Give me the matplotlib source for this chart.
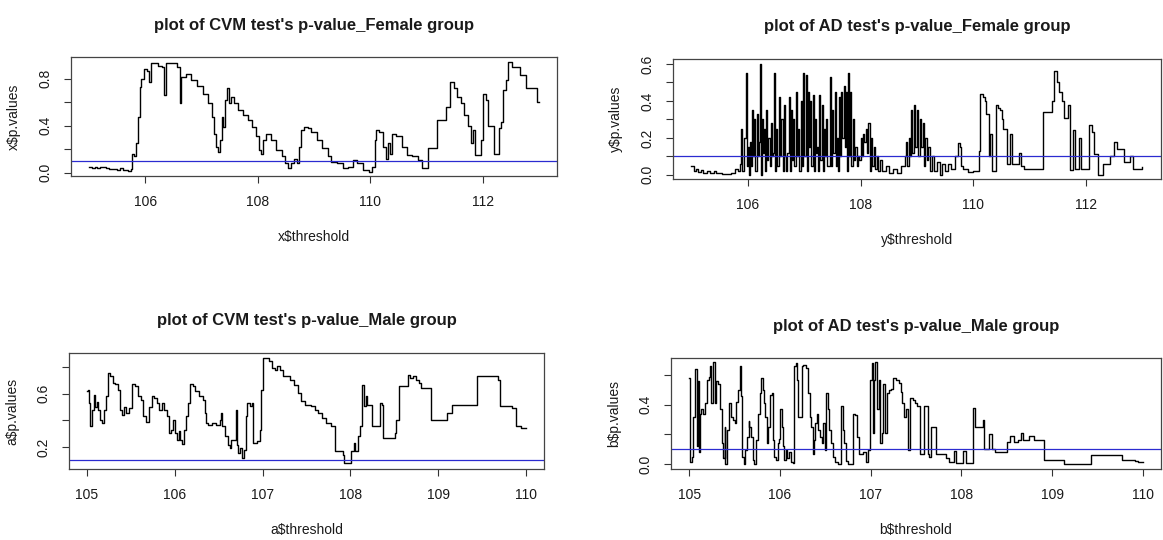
import matplotlib
matplotlib.use('Agg')
import matplotlib.pyplot as plt

plt.rcParams['font.family'] = ['Liberation Sans', 'DejaVu Sans']

# threshold / p-value pairs
cvm_female = [
    (105.0, 0.05), (105.05, 0.04), (105.1, 0.05), (105.15, 0.04), (105.2, 0.05), (105.3, 0.04),
    (105.35, 0.03), (105.45, 0.035), (105.5, 0.025), (105.55, 0.04), (105.6, 0.025), (105.65, 0.02),
    (105.7, 0.015), (105.74, 0.03), (105.77, 0.16), (105.8, 0.14), (105.84, 0.25), (105.87, 0.47),
    (105.9, 0.73), (105.93, 0.8), (105.97, 0.88), (106.03, 0.86), (106.07, 0.77), (106.1, 0.93),
    (106.23, 0.91), (106.3, 0.9), (106.34, 0.66), (106.37, 0.93), (106.49, 0.93), (106.56, 0.9),
    (106.61, 0.59), (106.64, 0.81), (106.72, 0.84), (106.82, 0.79), (106.92, 0.74), (107.02, 0.67),
    (107.11, 0.59), (107.18, 0.47), (107.23, 0.33), (107.26, 0.22), (107.29, 0.18), (107.32, 0.28),
    (107.36, 0.47), (107.39, 0.39), (107.42, 0.62), (107.46, 0.72), (107.49, 0.59), (107.52, 0.64),
    (107.57, 0.59), (107.64, 0.53), (107.74, 0.49), (107.82, 0.45), (107.9, 0.39), (107.97, 0.31),
    (108.02, 0.19), (108.05, 0.16), (108.1, 0.28), (108.14, 0.33), (108.23, 0.28), (108.33, 0.19),
    (108.43, 0.14), (108.49, 0.08), (108.54, 0.04), (108.59, 0.08), (108.64, 0.12), (108.7, 0.08),
    (108.73, 0.22), (108.77, 0.36), (108.82, 0.39), (108.89, 0.38), (108.95, 0.35), (109.05, 0.28),
    (109.15, 0.21), (109.25, 0.14), (109.31, 0.09), (109.41, 0.08), (109.51, 0.04), (109.61, 0.05),
    (109.7, 0.11), (109.77, 0.08), (109.87, 0.02), (109.97, 0.01), (110.03, 0.05), (110.09, 0.28),
    (110.11, 0.36), (110.16, 0.35), (110.23, 0.22), (110.28, 0.12), (110.31, 0.25), (110.35, 0.16),
    (110.39, 0.33), (110.46, 0.31), (110.56, 0.22), (110.66, 0.15), (110.75, 0.14), (110.85, 0.11),
    (110.92, 0.04), (111.02, 0.21), (111.18, 0.45), (111.34, 0.56), (111.41, 0.77), (111.48, 0.72),
    (111.54, 0.64), (111.61, 0.59), (111.67, 0.49), (111.74, 0.4), (111.79, 0.25), (111.82, 0.36),
    (111.86, 0.15), (111.97, 0.28), (112.0, 0.67), (112.05, 0.62), (112.1, 0.4), (112.2, 0.16),
    (112.28, 0.38), (112.33, 0.43), (112.36, 0.7), (112.41, 0.79), (112.45, 0.94), (112.52, 0.9),
    (112.66, 0.83), (112.77, 0.72), (112.97, 0.6), (113.0, 0.6),
]

ad_female = [
    (105.0, 0.045), (105.05, 0.02), (105.08, 0.03), (105.12, 0.015), (105.18, 0.025), (105.22, 0.01),
    (105.28, 0.02), (105.33, 0.012), (105.4, 0.022), (105.45, 0.01), (105.55, 0.005), (105.7, 0.008),
    (105.78, 0.03), (105.83, 0.02), (105.86, 0.06), (105.89, 0.25), (105.91, 0.02), (105.94, 0.2),
    (105.97, 0.55), (105.985, 0.05), (106.0, 0.15), (106.02, 0.0), (106.04, 0.18), (106.06, 0.05),
    (106.08, 0.35), (106.1, 0.1), (106.12, 0.3), (106.14, 0.02), (106.16, 0.33), (106.18, 0.1),
    (106.2, 0.18), (106.22, 0.6), (106.235, 0.0), (106.25, 0.3), (106.27, 0.12), (106.29, 0.25),
    (106.31, 0.02), (106.33, 0.35), (106.35, 0.08), (106.37, 0.2), (106.39, 0.05), (106.41, 0.28),
    (106.43, 0.1), (106.45, 0.12), (106.47, 0.55), (106.49, 0.02), (106.51, 0.25), (106.53, 0.05),
    (106.56, 0.42), (106.58, 0.1), (106.6, 0.3), (106.62, 0.02), (106.64, 0.38), (106.66, 0.1),
    (106.68, 0.02), (106.7, 0.12), (106.73, 0.42), (106.75, 0.02), (106.77, 0.35), (106.79, 0.08),
    (106.81, 0.3), (106.83, 0.05), (106.85, 0.45), (106.87, 0.1), (106.89, 0.25), (106.91, 0.02),
    (106.94, 0.4), (106.96, 0.05), (106.98, 0.55), (107.0, 0.1), (107.03, 0.54), (107.05, 0.02),
    (107.07, 0.45), (107.09, 0.15), (107.11, 0.4), (107.13, 0.05), (107.15, 0.43), (107.17, 0.02),
    (107.19, 0.3), (107.21, 0.12), (107.23, 0.15), (107.25, 0.02), (107.27, 0.43), (107.29, 0.08),
    (107.31, 0.38), (107.33, 0.02), (107.35, 0.25), (107.37, 0.1), (107.39, 0.3), (107.41, 0.05),
    (107.46, 0.53), (107.48, 0.05), (107.5, 0.35), (107.52, 0.12), (107.54, 0.45), (107.56, 0.05),
    (107.58, 0.2), (107.6, 0.02), (107.62, 0.42), (107.64, 0.1), (107.66, 0.45), (107.68, 0.2),
    (107.7, 0.48), (107.72, 0.15), (107.74, 0.45), (107.76, 0.02), (107.78, 0.55), (107.8, 0.1),
    (107.82, 0.45), (107.84, 0.05), (107.86, 0.3), (107.88, 0.08), (107.9, 0.15), (107.93, 0.05),
    (107.96, 0.1), (107.98, 0.08), (108.0, 0.2), (108.02, 0.1), (108.05, 0.22), (108.07, 0.18),
    (108.1, 0.25), (108.12, 0.12), (108.14, 0.28), (108.16, 0.02), (108.19, 0.2), (108.21, 0.05),
    (108.23, 0.15), (108.26, 0.03), (108.29, 0.1), (108.31, 0.02), (108.35, 0.08), (108.38, 0.02),
    (108.45, 0.05), (108.5, 0.01), (108.58, 0.03), (108.65, 0.01), (108.72, 0.05), (108.78, 0.1),
    (108.8, 0.18), (108.82, 0.05), (108.85, 0.2), (108.87, 0.1), (108.9, 0.35), (108.92, 0.12),
    (108.95, 0.38), (108.97, 0.15), (109.0, 0.35), (109.02, 0.1), (109.05, 0.3), (109.07, 0.15),
    (109.1, 0.28), (109.12, 0.05), (109.15, 0.2), (109.18, 0.08), (109.2, 0.15), (109.23, 0.02),
    (109.26, 0.1), (109.3, 0.02), (109.35, 0.07), (109.4, 0.0), (109.45, 0.06), (109.5, 0.02),
    (109.55, 0.06), (109.6, 0.03), (109.68, 0.1), (109.72, 0.17), (109.76, 0.15), (109.78, 0.05),
    (109.82, 0.03), (109.9, 0.015), (110.0, 0.02), (110.09, 0.13), (110.12, 0.44), (110.17, 0.42),
    (110.21, 0.4), (110.23, 0.33), (110.27, 0.1), (110.3, 0.22), (110.33, 0.02), (110.4, 0.38),
    (110.44, 0.36), (110.47, 0.35), (110.5, 0.3), (110.53, 0.25), (110.59, 0.06), (110.64, 0.22),
    (110.68, 0.06), (110.8, 0.12), (110.84, 0.05), (110.89, 0.03), (111.23, 0.34), (111.39, 0.4),
    (111.43, 0.56), (111.48, 0.5), (111.52, 0.45), (111.57, 0.4), (111.61, 0.31), (111.68, 0.38),
    (111.7, 0.027), (111.76, 0.24), (111.79, 0.03), (111.87, 0.2), (111.9, 0.03), (112.04, 0.27),
    (112.1, 0.23), (112.13, 0.11), (112.21, 0.0), (112.3, 0.06), (112.41, 0.1), (112.48, 0.18),
    (112.54, 0.14), (112.67, 0.07), (112.77, 0.1), (112.82, 0.03), (112.98, 0.04),
]

cvm_male = [
    (105.0, 0.62), (105.021, 0.63), (105.03, 0.53), (105.042, 0.355), (105.059, 0.48), (105.08, 0.59),
    (105.097, 0.5), (105.114, 0.54), (105.135, 0.48), (105.157, 0.4), (105.178, 0.38), (105.199, 0.48),
    (105.22, 0.58), (105.241, 0.755), (105.271, 0.73), (105.296, 0.68), (105.326, 0.67), (105.356, 0.63),
    (105.381, 0.48), (105.402, 0.44), (105.423, 0.5), (105.453, 0.455), (105.487, 0.49), (105.517, 0.67),
    (105.546, 0.655), (105.58, 0.58), (105.614, 0.555), (105.644, 0.43), (105.677, 0.39), (105.707, 0.5),
    (105.741, 0.58), (105.771, 0.57), (105.8, 0.53), (105.826, 0.48), (105.855, 0.53), (105.876, 0.48),
    (105.91, 0.43), (105.94, 0.305), (105.961, 0.33), (105.982, 0.405), (106.003, 0.305), (106.025, 0.255),
    (106.046, 0.32), (106.067, 0.255), (106.088, 0.22), (106.109, 0.33), (106.13, 0.43), (106.152, 0.53),
    (106.173, 0.67), (106.207, 0.655), (106.236, 0.62), (106.279, 0.58), (106.321, 0.555), (106.342, 0.455),
    (106.363, 0.38), (106.384, 0.368), (106.427, 0.38), (106.469, 0.368), (106.511, 0.405), (106.533, 0.455),
    (106.545, 0.355), (106.575, 0.28), (106.605, 0.218), (106.63, 0.193), (106.647, 0.255), (106.681, 0.255),
    (106.693, 0.48), (106.706, 0.218), (106.723, 0.155), (106.744, 0.193), (106.765, 0.118), (106.787, 0.18),
    (106.808, 0.43), (106.829, 0.53), (106.859, 0.505), (106.88, 0.53), (106.892, 0.23), (106.935, 0.243),
    (106.969, 0.33), (106.986, 0.63), (107.007, 0.868), (107.041, 0.868), (107.07, 0.843), (107.104, 0.793),
    (107.146, 0.78), (107.168, 0.805), (107.197, 0.78), (107.231, 0.73), (107.274, 0.73), (107.316, 0.705),
    (107.358, 0.668), (107.4, 0.605), (107.443, 0.543), (107.485, 0.518), (107.549, 0.505), (107.591, 0.48),
    (107.633, 0.455), (107.676, 0.418), (107.718, 0.38), (107.782, 0.355), (107.824, 0.168), (107.917, 0.143),
    (107.93, 0.08), (108.006, 0.168), (108.036, 0.23), (108.057, 0.168), (108.086, 0.28), (108.112, 0.355),
    (108.133, 0.668), (108.154, 0.505), (108.171, 0.58), (108.184, 0.518), (108.247, 0.355), (108.332, 0.53),
    (108.362, 0.518), (108.374, 0.268), (108.501, 0.305), (108.522, 0.405), (108.552, 0.655), (108.65, 0.743),
    (108.671, 0.718), (108.713, 0.73), (108.747, 0.705), (108.776, 0.68), (108.798, 0.643), (108.916, 0.405),
    (109.094, 0.455), (109.157, 0.518), (109.441, 0.73), (109.678, 0.705), (109.695, 0.505), (109.835, 0.49),
    (109.878, 0.355), (109.94, 0.343), (110.0, 0.343),
]

ad_male = [
    (105.0, 0.58), (105.005, 0.3), (105.01, 0.015), (105.03, 0.05), (105.045, 0.32), (105.06, 0.64),
    (105.085, 0.12), (105.095, 0.56), (105.105, 0.08), (105.12, 0.34), (105.135, 0.37), (105.155, 0.34),
    (105.175, 0.41), (105.195, 0.57), (105.215, 0.59), (105.23, 0.66), (105.245, 0.41), (105.265, 0.69),
    (105.28, 0.41), (105.3, 0.56), (105.32, 0.54), (105.34, 0.37), (105.36, 0.14), (105.375, 0.04),
    (105.39, 0.25), (105.4, 0.0), (105.42, 0.23), (105.44, 0.41), (105.46, 0.32), (105.48, 0.3),
    (105.5, 0.28), (105.52, 0.42), (105.54, 0.5), (105.555, 0.66), (105.57, 0.46), (105.585, 0.05),
    (105.6, 0.0), (105.615, 0.095), (105.635, 0.185), (105.655, 0.29), (105.665, 0.25), (105.685, 0.185),
    (105.705, 0.027), (105.72, 0.0), (105.74, 0.16), (105.76, 0.34), (105.78, 0.48), (105.795, 0.58),
    (105.81, 0.5), (105.825, 0.41), (105.84, 0.32), (105.855, 0.14), (105.87, 0.25), (105.89, 0.47),
    (105.91, 0.48), (105.925, 0.16), (105.94, 0.05), (105.955, 0.027), (105.975, 0.14), (105.995, 0.17),
    (106.005, 0.37), (106.02, 0.25), (106.035, 0.12), (106.05, 0.03), (106.065, 0.095), (106.08, 0.04),
    (106.1, 0.08), (106.12, 0.016), (106.14, 0.005), (106.16, 0.66), (106.175, 0.68), (106.19, 0.57),
    (106.2, 0.32), (106.24, 0.66), (106.26, 0.67), (106.29, 0.65), (106.315, 0.48), (106.33, 0.32),
    (106.345, 0.25), (106.36, 0.07), (106.375, 0.16), (106.39, 0.28), (106.405, 0.34), (106.425, 0.23),
    (106.445, 0.185), (106.465, 0.14), (106.48, 0.28), (106.495, 0.095), (106.505, 0.48), (106.525, 0.37),
    (106.545, 0.23), (106.565, 0.14), (106.585, 0.05), (106.605, 0.016), (106.645, 0.0), (106.675, 0.39),
    (106.7, 0.23), (106.71, 0.14), (106.73, 0.02), (106.75, 0.0), (106.81, 0.34), (106.83, 0.33),
    (106.855, 0.185), (106.875, 0.07), (106.915, 0.08), (106.945, 0.016), (106.975, 0.095), (106.995, 0.57),
    (107.01, 0.68), (107.025, 0.21), (107.04, 0.57), (107.05, 0.69), (107.07, 0.37), (107.09, 0.57),
    (107.1, 0.14), (107.12, 0.21), (107.14, 0.54), (107.16, 0.21), (107.18, 0.48), (107.2, 0.5),
    (107.23, 0.51), (107.25, 0.58), (107.285, 0.57), (107.31, 0.55), (107.33, 0.49), (107.35, 0.41),
    (107.37, 0.32), (107.39, 0.37), (107.41, 0.095), (107.43, 0.445), (107.465, 0.43), (107.485, 0.41),
    (107.51, 0.39), (107.545, 0.07), (107.586, 0.39), (107.627, 0.07), (107.645, 0.05), (107.668, 0.25),
    (107.725, 0.07), (107.83, 0.04), (107.86, 0.01), (107.914, 0.085), (107.939, 0.005), (108.02, 0.09),
    (108.05, 0.005), (108.127, 0.38), (108.15, 0.25), (108.235, 0.3), (108.25, 0.1), (108.31, 0.2),
    (108.34, 0.1), (108.37, 0.08), (108.5, 0.15), (108.54, 0.19), (108.58, 0.15), (108.62, 0.16),
    (108.66, 0.21), (108.68, 0.16), (108.74, 0.19), (108.8, 0.16), (108.91, 0.03), (109.13, 0.0),
    (109.43, 0.06), (109.77, 0.025), (109.91, 0.02), (109.95, 0.01), (110.0, 0.01),
]

titles = ["plot of CVM test's p-value_Female group", "plot of AD test's p-value_Female group",
          "plot of CVM test's p-value_Male group", "plot of AD test's p-value_Male group"]
xlabels = ['x$threshold', 'y$threshold', 'a$threshold', 'b$threshold']
ylabels = ['x$p.values', 'y$p.values', 'a$p.values', 'b$p.values']
cutoff = 0.1

W, H = 1163, 540
fig = plt.figure(figsize=(W / 100, H / 100), dpi=100)

# box edges in pixels: left, right, top, bottom
boxes = [(71, 557, 57, 176), (673, 1161, 59, 179), (69, 544, 353, 469), (671, 1161, 358, 469)]
xlims = [(104.68, 113.32), (104.68, 113.32), (104.8, 110.2), (104.8, 110.2)]
ylims = [(-0.028, 0.983), (-0.023, 0.627), (0.035, 0.905), (-0.034, 0.717)]
xticks = [[106, 108, 110, 112], [106, 108, 110, 112], [105, 106, 107, 108, 109, 110], [105, 106, 107, 108, 109, 110]]
yticks = [[0.0, 0.2, 0.4, 0.6, 0.8], [0.0, 0.1, 0.2, 0.3, 0.4, 0.5, 0.6], [0.2, 0.4, 0.6, 0.8], [0.0, 0.2, 0.4, 0.6]]
yticklabels = [['0.0', '', '0.4', '', '0.8'], ['0.0', '', '0.2', '', '0.4', '', '0.6'],
               ['0.2', '', '0.6', ''], ['0.0', '', '0.4', '']]
data = [cvm_female, ad_female, cvm_male, ad_male]

txt = '#1a1a1a'
for i in range(4):
    l, r, t, b = boxes[i]
    w, h = r - l, b - t
    ax = fig.add_axes([l / W, 1 - b / H, w / W, h / H])
    xs = [p[0] for p in data[i]]
    ys = [p[1] for p in data[i]]
    ax.plot(xs, ys, color='black', lw=1.0, drawstyle='steps-post')
    ax.axhline(cutoff, color='#2b2bd0', lw=0.9)
    ax.set_xlim(*xlims[i])
    ax.set_ylim(*ylims[i])
    ax.set_xticks(xticks[i])
    ax.set_yticks(yticks[i])
    ax.set_yticklabels(yticklabels[i])
    ax.tick_params(length=5, width=0.8, color='#333333', labelsize=10, labelcolor=txt, pad=9)
    ax.tick_params(axis='y', labelrotation=90, pad=8)
    for lab in ax.get_yticklabels():
        lab.set_va('center')
    for s in ax.spines.values():
        s.set_color('#444444')
        s.set_linewidth(0.9)
    ax.set_title(titles[i], fontsize=12, fontweight='bold', color=txt, y=1 + 32 / h, pad=0, va='center')
    ax.set_xlabel(xlabels[i], fontsize=10, color=txt)
    ax.xaxis.set_label_coords(0.5, -61 / h)
    ax.xaxis.label.set_va('center')
    ax.set_ylabel(ylabels[i], fontsize=10, color=txt)
    ax.yaxis.set_label_coords(-57 / w, 0.5)
    ax.yaxis.label.set_va('center')

fig.savefig('out.png', dpi=100)
